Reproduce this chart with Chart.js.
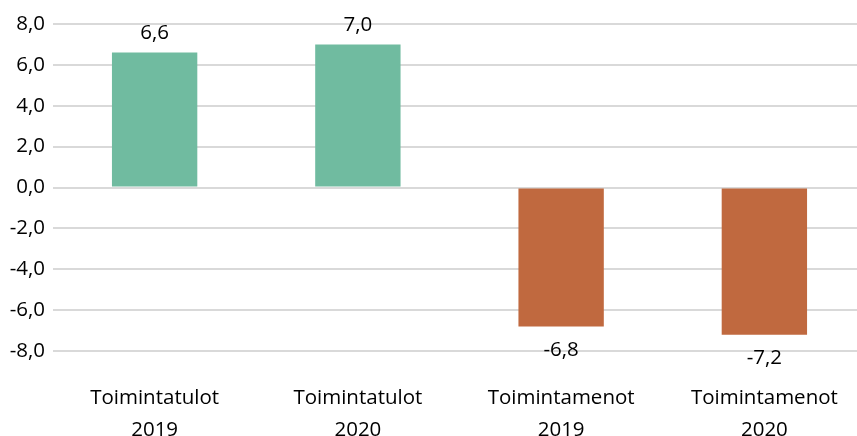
<!DOCTYPE html>
<html><head><meta charset="utf-8">
<script src="https://cdn.jsdelivr.net/npm/chart.js@4/dist/chart.umd.min.js"></script>
<style>html,body{margin:0;padding:0;overflow:hidden;background:#fff}#wrap{width:866px;height:436px}</style>
</head><body><div id="wrap"><canvas id="c" width="866" height="436"></canvas></div>
<script>
const categories = [["Toimintatulot","2019"],["Toimintatulot","2020"],["Toimintamenot","2019"],["Toimintamenot","2020"]];
const values = [6.6, 7.0, -6.8, -7.2];
const barColors = ["#70BBA0","#70BBA0","#C0693F","#C0693F"];
const yTicks = [-8,-6,-4,-2,0,2,4,6,8];
const FONT = "'Open Sans', sans-serif";
const fmt = v => v.toFixed(1).replace('.', ',');

const labelPlugin = {
  id: 'valLabels',
  afterDatasetsDraw(chart) {
    const ctx = chart.ctx;
    const meta = chart.getDatasetMeta(0);
    ctx.save();
    ctx.font = "20.5px " + FONT;
    ctx.fillStyle = "#000";
    ctx.textAlign = "center";
    ctx.textBaseline = "middle";
    meta.data.forEach((bar, i) => {
      const v = values[i];
      const y = v >= 0 ? bar.y - 19 : bar.y + 24;
      ctx.fillText(fmt(v), bar.x, y);
    });
    ctx.restore();
  }
};

new Chart(document.getElementById('c'), {
  type: 'bar',
  data: { labels: categories, datasets: [{ data: values, backgroundColor: barColors, categoryPercentage: 1, barPercentage: 0.42 }] },
  options: {
    responsive: false, animation: false,
    layout: { padding: { top: 24, right: 0, left: 0, bottom: 0 } },
    plugins: { legend: { display: false }, tooltip: { enabled: false } },
    scales: {
      x: {
        grid: { display: false }, border: { display: false },
        ticks: { color: "#000", font: { family: FONT, size: 20.5, lineHeight: 1.52 }, padding: 24, maxRotation: 0 },
        afterFit(s) { s.height = 85; s.paddingLeft = 0; s.paddingRight = 0; }
      },
      y: {
        min: -8, max: 8,
        afterBuildTicks(s) { s.ticks = yTicks.map(v => ({ value: v })); },
        grid: { color: "#D9D9D9", lineWidth: 2, drawTicks: false },
        border: { display: false },
        ticks: { color: "#000", font: { family: FONT, size: 20.5 }, padding: 8, callback: v => fmt(v) },
        afterFit(s) { s.width = 53; }
      }
    }
  },
  plugins: [labelPlugin]
});
</script></body></html>
